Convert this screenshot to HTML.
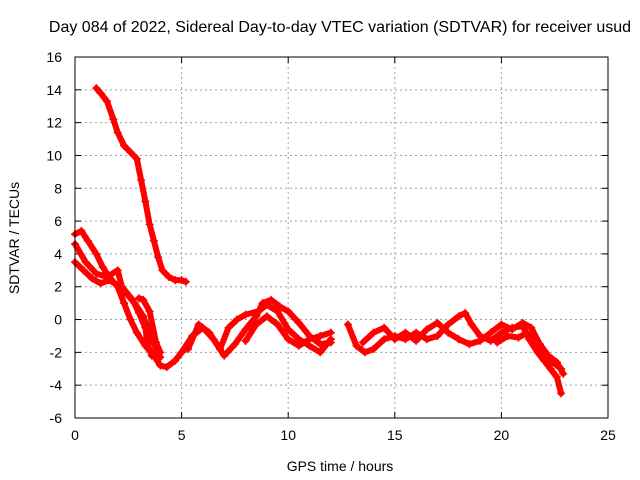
<!DOCTYPE html>
<html><head><meta charset="utf-8"><style>
body{margin:0;background:#fff}
svg{display:block;font-family:"Liberation Sans",sans-serif}
</style></head><body>
<svg id="chart" width="640" height="480">
<text x="340" y="32" font-size="16" text-anchor="middle">Day 084 of 2022, Sidereal Day-to-day VTEC variation (SDTVAR) for receiver usud</text>
<text x="340" y="471" font-size="14" text-anchor="middle">GPS time / hours</text>
<text transform="translate(19,238) rotate(-90)" font-size="14" text-anchor="middle">SDTVAR / TECUs</text>
<g id="grid"></g><g id="ticks"></g><g id="marks"></g>
<rect x="75" y="57" width="533" height="361" fill="none" stroke="#000"/>
</svg>
<script>
const xTicks=[0,5,10,15,20,25];
const yTicks=[-6,-4,-2,0,2,4,6,8,10,12,14,16];
const trackA=[[1.0,14.1],[1.2,13.8],[1.5,13.3],[1.8,12.2],[2.0,11.4],[2.3,10.6],[2.6,10.2],[2.9,9.8],[3.1,8.5],[3.3,7.2],[3.5,5.8],[3.7,4.8],[3.9,3.8],[4.1,3.0],[4.4,2.6],[4.7,2.4],[5.0,2.4],[5.2,2.3]];
const trackB=[[0,5.2],[0.3,5.4],[0.6,4.8],[1.0,4.0],[1.3,3.2],[1.6,2.6],[2.0,2.0],[2.3,1.0],[2.6,0],[2.9,-0.8],[3.3,-1.6],[3.7,-2.2],[4.0,-2.8],[4.3,-2.9],[4.7,-2.5],[5.0,-2.0],[5.3,-1.5]];
const trackC=[[0,3.5],[0.4,3.0],[0.8,2.5],[1.2,2.2],[1.6,2.4],[2.0,2.1],[2.4,1.6],[2.8,1.0],[3.2,0.2],[3.5,-0.8],[3.8,-1.8],[4.0,-2.3]];
const trackD=[[0,4.6],[0.5,3.5],[1.0,2.8],[1.5,2.6],[2.0,3.0],[2.2,2.0],[2.7,1.2],[3.0,0.4],[3.3,-0.5],[3.4,-1.5],[3.6,-2.2]];
const trackD2=[[3.0,1.3],[3.2,1.2],[3.5,0.5],[3.8,-1.4],[4.0,-2.0]];
const trackE=[[5.0,-2.0],[5.5,-1.0],[6.0,-0.5],[6.5,-1.2],[7.0,-2.2],[7.5,-1.5],[8.0,-0.6],[8.5,0.2],[8.8,1.0],[9.2,1.2],[9.6,0.8],[10.0,0.5],[10.5,-0.2],[11.0,-1.0],[11.5,-1.5],[12.0,-1.4]];
const trackF=[[5.3,-1.8],[5.8,-0.3],[6.3,-0.8],[6.8,-1.8],[7.2,-0.5],[7.6,0],[8.0,0.3],[8.6,0.5],[9.0,0.9],[9.5,0.5],[10.0,-0.6],[10.5,-1.2],[11.0,-1.6],[11.5,-2.0],[12.0,-1.2]];
const trackG=[[8.0,-1.3],[8.5,-0.3],[9.0,0.2],[9.5,-0.3],[10.0,-1.2],[10.5,-1.6],[11.0,-1.2],[11.5,-1.0],[12.0,-0.8]];
const trackH=[[12.8,-0.3],[13.2,-1.6],[13.6,-2.0],[14.0,-1.8],[14.5,-1.2],[15.0,-1.0],[15.5,-1.2],[16.0,-0.8],[16.5,-1.2],[17.0,-1.0],[17.5,-0.3],[18.0,0.2],[18.3,0.4],[18.6,-0.3],[19.0,-1.0],[19.5,-1.3],[20.0,-0.8],[20.5,-0.5],[21.0,-0.4],[21.3,-1.2],[21.7,-2.0],[22.0,-2.5],[22.3,-3.0],[22.6,-3.5],[22.8,-4.5]];
const trackI=[[13.5,-1.4],[14.0,-0.8],[14.5,-0.5],[15.0,-1.2],[15.5,-0.8],[16.0,-1.3],[16.5,-0.6],[17.0,-0.2],[17.5,-0.8],[18.0,-1.2],[18.5,-1.5],[19.0,-1.3],[19.5,-0.8],[20.0,-0.3],[20.5,-0.6],[21.0,-0.2],[21.4,-0.5],[21.8,-1.5],[22.2,-2.2],[22.6,-2.6],[22.9,-3.3]];
const trackJ=[[19.8,-1.4],[20.3,-1.0],[20.8,-1.1],[21.2,-0.8],[21.6,-1.4],[22.0,-2.0],[22.4,-2.6],[22.8,-3.0]];
const tracks=[trackA,trackB,trackC,trackD,trackD2,trackE,trackF,trackG,trackH,trackI,trackJ];
const NS='http://www.w3.org/2000/svg';
const X0=75,X1=608,Y0=418,Y1=57;
function sx(v){return X0+(v-0)/(25-0)*(X1-X0);}
function sy(v){return Y0-(v+6)/(22)*(Y0-Y1);}
function mk(tag,attrs,parent){const e=document.createElementNS(NS,tag);for(const k in attrs)e.setAttribute(k,attrs[k]);parent.appendChild(e);return e;}
const grid=document.getElementById('grid'),ticks=document.getElementById('ticks'),marks=document.getElementById('marks');
xTicks.forEach(t=>{const x=sx(t);
 if(t>0&&t<25){const g=mk('line',{x1:x,x2:x,y1:Y1,y2:Y0,stroke:'#a0a0a0','stroke-dasharray':'2,3'},grid);
 
 }
 mk('line',{x1:x,x2:x,y1:Y0,y2:Y0-6,stroke:'#000'},ticks);mk('line',{x1:x,x2:x,y1:Y1,y2:Y1+6,stroke:'#000'},ticks);
 const l=mk('text',{x:x,y:Y0+22,'font-size':14,'text-anchor':'middle'},ticks);l.textContent=t;
 
 });
yTicks.forEach(t=>{const y=sy(t);
 if(t>-6&&t<16){const g=mk('line',{x1:X0,x2:X1,y1:y,y2:y,stroke:'#a0a0a0','stroke-dasharray':'2,3'},grid);
 
 }
 mk('line',{x1:X0,x2:X0+6,y1:y,y2:y,stroke:'#000'},ticks);mk('line',{x1:X1,x2:X1-6,y1:y,y2:y,stroke:'#000'},ticks);
 const l=mk('text',{x:X0-13,y:y+5,'font-size':14,'text-anchor':'end'},ticks);l.textContent=t;
 
 });
tracks.forEach(tr=>{
 const p=mk('polyline',{points:tr.map(d=>sx(d[0])+','+sy(d[1])).join(' '),fill:'none',stroke:'#ff0000','stroke-width':6,'stroke-linejoin':'round','stroke-linecap':'round'},marks);
 
 
 tr.forEach(d=>{const x=sx(d[0]),y=sy(d[1]);
  const m=mk('path',{d:`M${x-4},${y}H${x+4}M${x},${y-4}V${y+4}`,stroke:'#ff0000','stroke-width':1.5},marks);
  
  });
});
</script>
</body></html>
